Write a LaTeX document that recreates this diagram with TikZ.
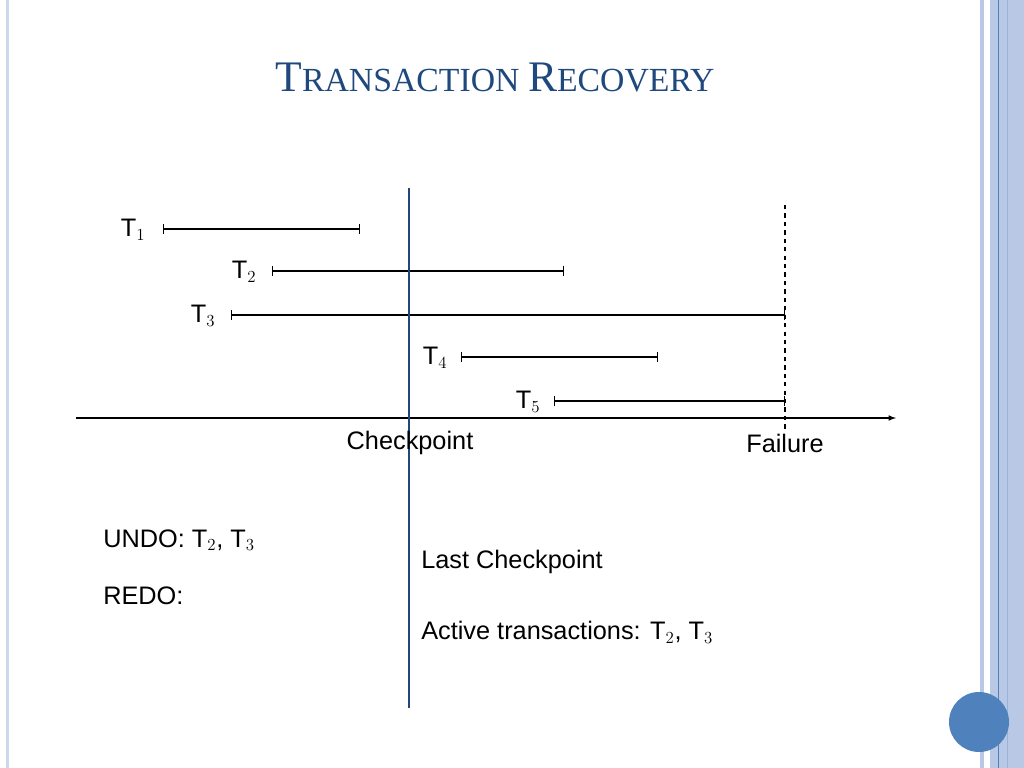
\documentclass[tikz,border=0pt]{standalone}
\usepackage{fontspec}
\setmainfont{Liberation Sans}
\newfontfamily\titlefont{Liberation Serif}
\usetikzlibrary{positioning,calc}
\definecolor{slideblue}{RGB}{31,73,125}
\definecolor{stripe}{RGB}{185,200,228}
\definecolor{stripedark}{RGB}{79,129,189}
\begin{document}
\begin{tikzpicture}[x=0.025cm,y=-0.025cm]
        \tikzstyle{txn}=[|-|, thick, >=Bar]
        \tikzstyle{lbl}=[inner sep=0pt, font=\fontsize{18}{20}\selectfont]

        % slide frame
        \useasboundingbox (0,0) rectangle (1024,768);
        \fill[stripe!70] (6,0) rectangle (9,768);
        \fill[stripe] (980,0) rectangle (984,768);
        \fill[stripe] (990,0) rectangle (1024,768);
        \draw[stripedark] (998,0) -- (998,768);
        \draw[stripedark!60] (1007,0) -- (1007,768);
        \fill[stripedark] (979,722) circle (30);

        \node (title) at (495,77) {\titlefont\color{slideblue}{\fontsize{31}{33}\selectfont T}{\fontsize{24}{26}\selectfont RANSACTION }{\fontsize{31}{33}\selectfont R}{\fontsize{24}{26}\selectfont ECOVERY}};

        % transactions
        \node[lbl] (t1) at (133,230) {T$_1$};
        \node[lbl] (t2) at (244,272) {T$_2$};
        \node[lbl] (t3) at (203,316) {T$_3$};
        \node[lbl] (t4) at (435,358) {T$_4$};
        \node[lbl] (t5) at (528,402) {T$_5$};
        \draw[txn] (163,229) -- (360,229);
        \draw[txn] (272,271) -- (564,271);
        \draw[txn] (231,315) -- (785,315);
        \draw[txn] (461,357) -- (658,357);
        \draw[txn] (554,401) -- (785,401);

        % time axis
        \draw[thick,-latex] (76,418) -- (896,418);
        \draw[thick,dashed] (785,205) -- (785,432);
        \draw[thick,dashed] (409,195) -- (409,430);
        \draw[slideblue,thick] (409,188) -- (409,708);
        \node[lbl] (cp) at (410,443) {Checkpoint};
        \node[lbl] (fail) at (785,443) {Failure};

        % recovery lists
        \node[lbl,anchor=west] (undo) at (103,540) {UNDO: T$_2$, T$_3$};
        \node[lbl,anchor=west] (redo) at (103,596) {REDO:};
        \node[lbl,anchor=west] (last) at (421,562) {Last Checkpoint};
        \node[lbl,anchor=west] (active) at (421,632) {Active transactions: T$_2$, T$_3$};
    \end{tikzpicture}
\end{document}
